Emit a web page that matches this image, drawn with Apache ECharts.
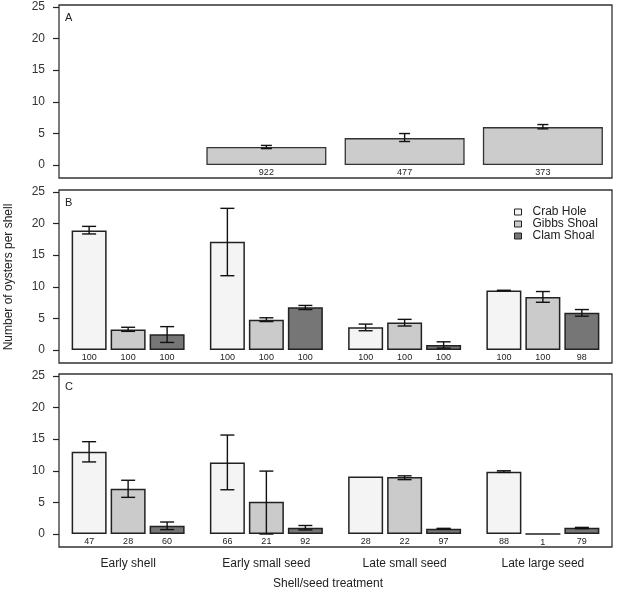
<html lang="en">
  <head>
    <meta charset="UTF-8" />
    <title>Oysters per shell</title>
  </head>
  <body style="margin: 0">
    <div id="main" style="width: 618px; height: 603px"></div>

    <script src="https://cdn.jsdelivr.net/npm/echarts@6/dist/echarts.min.js"></script>
    <script>
      // categories / legend
      const treatments = ['Early shell', 'Early small seed', 'Late small seed', 'Late large seed']
      const sites = ['Crab Hole', 'Gibbs Shoal', 'Clam Shoal']
      const yTicks = [0, 5, 10, 15, 20, 25]

      // panel A (one bar per treatment)
      const aMean = [null, 2.85, 4.26, 6.0]
      const aLow = [null, 2.6, 3.72, 5.72]
      const aHigh = [null, 3.1, 4.98, 6.4]
      const aN = ['', '922', '477', '373']

      // panel B
      const bMean = [
        [18.9, 17.1, 3.6, 9.4],
        [3.25, 4.8, 4.35, 8.4],
        [2.5, 6.75, 0.8, 5.9]
      ]
      const bLow = [
        [18.35, 11.75, 3.05, 9.35],
        [2.95, 4.5, 3.8, 7.55],
        [1.2, 6.4, 0.3, 5.35]
      ]
      const bHigh = [
        [19.55, 22.4, 4.1, 9.45],
        [3.6, 5.1, 4.85, 9.25],
        [3.7, 7.05, 1.3, 6.4]
      ]
      const bN = [
        ['100', '100', '100', '100'],
        ['100', '100', '100', '100'],
        ['100', '100', '100', '98']
      ]

      // panel C
      const cMean = [
        [13.0, 11.3, 9.1, 9.85],
        [7.15, 5.1, 9.0, 0],
        [1.3, 1.0, 0.85, 1.0]
      ]
      const cLow = [
        [11.4, 7.0, 9.1, 9.75],
        [5.8, 0, 8.6, 0],
        [0.7, 0.65, 0.8, 0.85]
      ]
      const cHigh = [
        [14.6, 15.65, 9.1, 10.0],
        [8.5, 9.95, 9.2, 0],
        [1.9, 1.35, 0.9, 1.05]
      ]
      const cN = [
        ['47', '66', '28', '88'],
        ['28', '21', '22', '1'],
        ['60', '92', '97', '79']
      ]

      const font = 'Liberation Sans, Arial, sans-serif'
      const siteColors = ['#f4f4f4', '#cbcbcb', '#767676']
      const barW = 35
      const offsets = [-39, 0, 39]

      // error bar drawer
      function errRender(offset, cap) {
        return function (params, api) {
          const i = api.value(0)
          const lo = api.value(1)
          const hi = api.value(2)
          if (lo === hi) return
          const x = api.coord([i, 0])[0] + offset
          const y1 = api.coord([i, lo])[1]
          const y2 = api.coord([i, hi])[1]
          const st = { stroke: '#111', lineWidth: 1.4 }
          return {
            type: 'group',
            children: [
              { type: 'line', shape: { x1: x, y1: y1, x2: x, y2: y2 }, style: st },
              { type: 'line', shape: { x1: x - cap / 2, y1: y1, x2: x + cap / 2, y2: y1 }, style: st },
              { type: 'line', shape: { x1: x - cap / 2, y1: y2, x2: x + cap / 2, y2: y2 }, style: st }
            ]
          }
        }
      }

      const grids = [
        { left: 59, right: 6, top: 5, height: 173 },
        { left: 59, right: 6, top: 190, height: 173 },
        { left: 59, right: 6, top: 374, height: 173 }
      ].map(g => Object.assign(g, { show: true, borderColor: '#333', borderWidth: 1.3 }))

      const xAxes = [0, 1, 2].map(k => ({
        type: 'category',
        gridIndex: k,
        data: treatments,
        axisLine: { show: false },
        axisTick: { show: false },
        axisLabel: { show: k === 2, fontSize: 12, color: '#222', margin: 11, fontFamily: font }
      }))

      const yAxes = [0, 1, 2].map(k => ({
        type: 'value',
        gridIndex: k,
        min: -2.05,
        max: 25.3,
        splitLine: { show: false },
        axisLine: { show: false },
        axisTick: { show: true, length: 6, customValues: yTicks, lineStyle: { color: '#222', width: 1.2 } },
        axisLabel: { customValues: yTicks, fontSize: 12, color: '#333', margin: 14, fontFamily: font }
      }))

      const series = []

      // panel A
      series.push({
        type: 'bar',
        xAxisIndex: 0,
        yAxisIndex: 0,
        barWidth: 120,
        data: aMean,
        itemStyle: { color: '#cccccc', borderColor: '#333', borderWidth: 1.3 },
        label: {
          show: true,
          position: 'bottom',
          distance: 3,
          fontSize: 9,
          color: '#222',
          fontFamily: font,
          formatter: p => aN[p.dataIndex]
        },
        animation: false
      })
      series.push({
        type: 'custom',
        xAxisIndex: 0,
        yAxisIndex: 0,
        renderItem: errRender(0, 11),
        data: aMean.map((v, i) => (v == null ? [i, 0, 0] : [i, aLow[i], aHigh[i]])),
        z: 5,
        animation: false
      })

      // panels B and C
      const panels = [
        [1, bMean, bLow, bHigh, bN],
        [2, cMean, cLow, cHigh, cN]
      ]
      panels.forEach(([k, mean, low, high, n]) => {
        sites.forEach((name, s) => {
          series.push({
            type: 'bar',
            name: name,
            xAxisIndex: k,
            yAxisIndex: k,
            barWidth: barW,
            barGap: '11.4%',
            data: mean[s],
            itemStyle: { color: siteColors[s], borderColor: '#222', borderWidth: 1.5 },
            label: {
              show: true,
              position: 'bottom',
              distance: 3,
              fontSize: 9,
              color: '#222',
              fontFamily: font,
              formatter: p => n[s][p.dataIndex]
            },
            animation: false
          })
        })
        sites.forEach((name, s) => {
          series.push({
            type: 'custom',
            xAxisIndex: k,
            yAxisIndex: k,
            renderItem: errRender(offsets[s], 14),
            data: mean[s].map((v, i) => [i, low[s][i], high[s][i]]),
            z: 5,
            animation: false
          })
        })
      })

      const option = {
        animation: false,
        grid: grids,
        xAxis: xAxes,
        yAxis: yAxes,
        legend: {
          data: sites,
          orient: 'vertical',
          left: 509,
          top: 201,
          itemWidth: 7,
          itemHeight: 6,
          itemGap: 0,
          icon: 'rect',
          itemStyle: { borderWidth: 1 },
          textStyle: { fontSize: 12, color: '#222', fontFamily: font, lineHeight: 12, padding: [0, 0, 0, 6] }
        },
        graphic: [
          { type: 'text', left: 65, top: 12, style: { text: 'A', fontSize: 11, fill: '#222', fontFamily: font } },
          { type: 'text', left: 65, top: 197, style: { text: 'B', fontSize: 11, fill: '#222', fontFamily: font } },
          { type: 'text', left: 65, top: 381, style: { text: 'C', fontSize: 11, fill: '#222', fontFamily: font } },
          {
            type: 'text',
            x: 328,
            y: 584,
            style: { text: 'Shell/seed treatment', fontSize: 12, fill: '#222', fontFamily: font, align: 'center', verticalAlign: 'middle' }
          },
          {
            type: 'text',
            x: 9,
            y: 277,
            rotation: Math.PI / 2,
            style: { text: 'Number of oysters per shell', fontSize: 12, fill: '#222', fontFamily: font, align: 'center', verticalAlign: 'middle' }
          }
        ],
        series: series
      }
      echarts.init(document.querySelector('#main')).setOption(option)
    </script>
  </body>
</html>
